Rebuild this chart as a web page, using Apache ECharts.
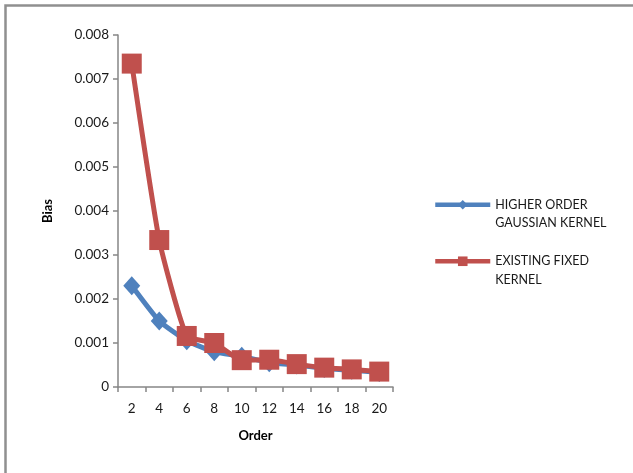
<!DOCTYPE html>
<html>
<head>
<meta charset="utf-8">
<script src="https://cdn.jsdelivr.net/npm/echarts@6/dist/echarts.min.js"></script>
<style>
  html, body { margin: 0; padding: 0; background: #fff; }
  #chart { width: 633px; height: 473px; }
</style>
</head>
<body>
<div id="chart"></div>
<script>
// Polynomial order on the x axis
const orders = ['2', '4', '6', '8', '10', '12', '14', '16', '18', '20'];

// Bias of each kernel estimator by order
const higherOrderGaussian = [0.0023, 0.0015, 0.00105, 0.0008, 0.0007, 0.00055, 0.0005, 0.00042, 0.00038, 0.00033];
const existingFixed = [0.00735, 0.00334, 0.00116, 0.001, 0.00061, 0.00062, 0.00052, 0.00044, 0.0004, 0.00035];

const seriesNames = ['HIGHER ORDER\nGAUSSIAN KERNEL', 'EXISTING FIXED\nKERNEL'];

const FONT = 'Lato, "Open Sans", sans-serif';
const AXIS_GREY = '#868686';

const chart = echarts.init(document.getElementById('chart'), null, { renderer: 'canvas' });

chart.setOption({
  animation: false,
  backgroundColor: '#ffffff',
  textStyle: { fontFamily: FONT },
  graphic: [{
    type: 'polyline',
    shape: { points: [[5.5, 473], [5.5, 5.5], [633, 5.5]] },
    style: { stroke: '#909090', lineWidth: 2.5, fill: null },
    silent: true
  }],
  grid: { left: 118, right: 240, top: 35, bottom: 86, containLabel: false },
  legend: {
    orient: 'vertical',
    left: 428,
    top: 172,
    itemWidth: 55,
    itemHeight: 12,
    itemGap: 1,
    lineStyle: { width: 4.5 },
    // leading blank line keeps the icon level with the first text line
    formatter: name => '\n' + name,
    textStyle: {
      fontFamily: FONT,
      fontSize: 12.5,
      color: '#1a1a1a',
      lineHeight: 18.5
    },
    data: seriesNames
  },
  xAxis: {
    type: 'category',
    data: orders,
    boundaryGap: true,
    name: 'Order',
    nameLocation: 'middle',
    nameGap: 42,
    nameTextStyle: { fontFamily: FONT, fontSize: 13, fontWeight: 'bold', color: '#000' },
    axisLine: { lineStyle: { color: AXIS_GREY, width: 1.5 } },
    axisTick: { show: true, length: 5, alignWithLabel: false, lineStyle: { color: AXIS_GREY, width: 1.5 } },
    axisLabel: { fontFamily: FONT, fontSize: 13.5, color: '#1a1a1a', margin: 15, interval: 0 },
    splitLine: { show: false }
  },
  yAxis: {
    type: 'value',
    min: 0,
    max: 0.008,
    interval: 0.001,
    name: 'Bias',
    nameLocation: 'middle',
    nameGap: 64,
    nameRotate: 90,
    nameTextStyle: { fontFamily: FONT, fontSize: 13, fontWeight: 'bold', color: '#000' },
    axisLine: { show: true, lineStyle: { color: AXIS_GREY, width: 1.5 } },
    axisTick: { show: true, length: 5, lineStyle: { color: AXIS_GREY, width: 1.5 } },
    axisLabel: {
      fontFamily: FONT, fontSize: 13.5, color: '#1a1a1a', margin: 9,
      formatter: v => (v === 0 ? '0' : v.toFixed(3))
    },
    splitLine: { show: false }
  },
  series: [
    {
      name: seriesNames[0],
      type: 'line',
      data: higherOrderGaussian,
      smooth: 0.15,
      symbol: 'diamond',
      symbolSize: [17, 19],
      lineStyle: { color: '#4F81BD', width: 5 },
      itemStyle: { color: '#4F81BD' }
    },
    {
      name: seriesNames[1],
      type: 'line',
      data: existingFixed,
      smooth: 0.15,
      symbol: 'rect',
      symbolSize: 20,
      lineStyle: { color: '#C0504D', width: 5 },
      itemStyle: { color: '#C0504D' }
    }
  ]
});
</script>
</body>
</html>
